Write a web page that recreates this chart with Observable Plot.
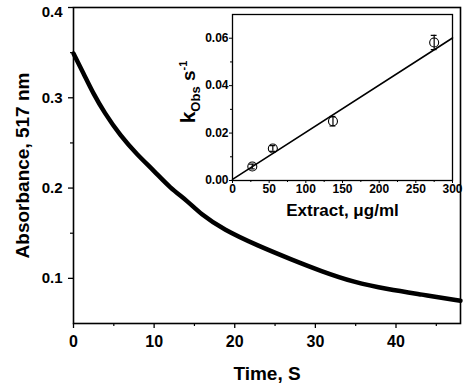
<!DOCTYPE html>
<html><head><meta charset="utf-8">
<script src="https://cdn.jsdelivr.net/npm/d3@7"></script>
<script src="https://cdn.jsdelivr.net/npm/@observablehq/plot@0.6"></script>
<style>
body{margin:0;background:#fff;}
#wrap{position:relative;width:467px;height:390px;overflow:hidden;background:#fff;}
#main{position:absolute;left:0;top:0;}
#inset{position:absolute;left:165px;top:0;}
</style></head><body><div id="wrap"><div id="main"></div><div id="inset"></div></div>
<script>
// Main decay curve (time in s, absorbance at 517 nm)
const timeS = [0, 1.3, 2.5, 3.8, 5.8, 7.9, 10, 12, 14.1, 15.8, 18.6, 22.9, 27, 30.7, 34.8, 39, 43.1, 48];
const absorbance = [0.349, 0.326, 0.304, 0.284, 0.258, 0.237, 0.219, 0.200, 0.186, 0.171, 0.154, 0.136, 0.121, 0.108, 0.0956, 0.0878, 0.0822, 0.0752];
const xTicks = [0, 10, 20, 30, 40];
const xMinor = [5, 15, 25, 35, 45];
const yTicks = [0.1, 0.2, 0.3, 0.4];
const yMinor = [0.15, 0.25, 0.35];
const xTitle = "Time, S";
const yTitle = "Absorbance, 517 nm";

// Inset: k_obs vs extract concentration
const extract = [27, 55, 137, 275];
const kObs = [0.0059, 0.0135, 0.0250, 0.0582];
const kErr = [0.0010, 0.0012, 0.0020, 0.0030];
const fitX = [0, 300];
const fitY = [0.0005, 0.0601];
const insetXTicks = [0, 50, 100, 150, 200, 250, 300];
const insetXMinor = [25, 75, 125, 175, 225, 275];
const insetYTicks = [0, 0.02, 0.04, 0.06];
const insetYMinor = [0.01, 0.03, 0.05];
const insetXTitle = "Extract, \u03bcg/ml";

const font = "'Liberation Sans', Arial, Helvetica, sans-serif";
const curve = timeS.map((t, i) => ({t, a: absorbance[i]}));
const pts = extract.map((c, i) => ({c, k: kObs[i], e: kErr[i]}));
const fit = fitX.map((x, i) => ({x, y: fitY[i]}));
const yTop = yTicks[yTicks.length - 1];
const yLower = yTicks.slice(0, -1);

const main = Plot.plot({
  width: 467, height: 390,
  marginTop: 7, marginBottom: 67, marginLeft: 73, marginRight: 7,
  style: {fontFamily: font, fontWeight: "bold", fontSize: "15px", color: "black", background: "white"},
  x: {domain: [0, 48]},
  y: {domain: [0.05, 0.4]},
  marks: [
    Plot.axisX(xTicks, {tickSize: 5, tickPadding: 7, fontSize: 16, tickFormat: d3.format("d"), label: null, strokeWidth: 1.3}),
    Plot.axisX(xMinor, {tickSize: 3, tickFormat: () => "", label: null, strokeWidth: 1.2}),
    Plot.axisY(yLower, {tickSize: 5, tickPadding: 6, tickFormat: d3.format(".1f"), label: null, strokeWidth: 1.3}),
    Plot.axisY([yTop], {tickSize: 5, tickFormat: () => "", label: null, strokeWidth: 1.3}),
    Plot.axisY([yTop], {tickSize: 0, tickPadding: 11, dy: 5, tickFormat: d3.format(".1f"), label: null}),
    Plot.axisY(yMinor, {tickSize: 3, tickFormat: () => "", label: null, strokeWidth: 1.2}),
    Plot.frame({stroke: "black", strokeWidth: 1.6}),
    Plot.line(curve, {x: "t", y: "a", stroke: "black", strokeWidth: 4.5, curve: "basis"}),
    Plot.text([xTitle], {text: d => d, frameAnchor: "bottom", dy: 50, lineAnchor: "middle", textAnchor: "middle", fontSize: 19, fontWeight: "bold", fill: "black"}),
    Plot.text([yTitle], {text: d => d, frameAnchor: "left", dx: -51, rotate: -90, lineAnchor: "middle", textAnchor: "middle", fontSize: 19, fontWeight: "bold", fill: "black"})
  ]
});
document.getElementById("main").appendChild(main);

const inset = Plot.plot({
  width: 297, height: 225,
  marginTop: 14, marginBottom: 45, marginLeft: 67, marginRight: 10,
  style: {fontFamily: font, fontWeight: "bold", fontSize: "12px", color: "black", background: "transparent", overflow: "visible"},
  x: {domain: [0, 300]},
  y: {domain: [0, 0.07]},
  marks: [
    Plot.axisX(insetXTicks, {tickSize: 3, tickPadding: 1, tickFormat: d3.format("d"), label: null}),
    Plot.axisX(insetXMinor, {tickSize: 2, tickFormat: () => "", label: null}),
    Plot.axisY(insetYTicks, {tickSize: 3, tickPadding: 1, tickFormat: d3.format(".2f"), label: null}),
    Plot.axisY(insetYMinor, {tickSize: 2, tickFormat: () => "", label: null}),
    Plot.frame({stroke: "black", strokeWidth: 1.3}),
    Plot.line(fit, {x: "x", y: "y", stroke: "black", strokeWidth: 1.6}),
    Plot.ruleX(pts, {x: "c", y1: d => d.k - d.e, y2: d => d.k + d.e, stroke: "black", strokeWidth: 1.2}),
    Plot.ruleY(pts, {y: d => d.k + d.e, x1: d => d.c - 4, x2: d => d.c + 4, stroke: "black", strokeWidth: 1.2}),
    Plot.ruleY(pts, {y: d => d.k - d.e, x1: d => d.c - 4, x2: d => d.c + 4, stroke: "black", strokeWidth: 1.2}),
    Plot.dot(pts, {x: "c", y: "k", r: 4.5, stroke: "black", fill: "none", strokeWidth: 1.1}),
    Plot.text([insetXTitle], {text: d => d, frameAnchor: "bottom", dy: 30, lineAnchor: "middle", fontSize: 17, fontWeight: "bold", fill: "black"})
  ]
});
document.getElementById("inset").appendChild(inset);

// rotated y title with subscript / superscript
const svg = d3.select(inset);
const t = svg.append("text")
  .attr("transform", "translate(30,92) rotate(-90)")
  .attr("text-anchor", "middle")
  .attr("font-family", font)
  .attr("font-weight", "bold")
  .attr("fill", "black");
t.append("tspan").attr("font-size", 21).text("k");
t.append("tspan").attr("font-size", 13).attr("dy", 5).text("Obs");
t.append("tspan").attr("font-size", 19).attr("dy", -5).text(" s");
t.append("tspan").attr("font-size", 11).attr("dy", -8).text("-1");
</script>
</body></html>
